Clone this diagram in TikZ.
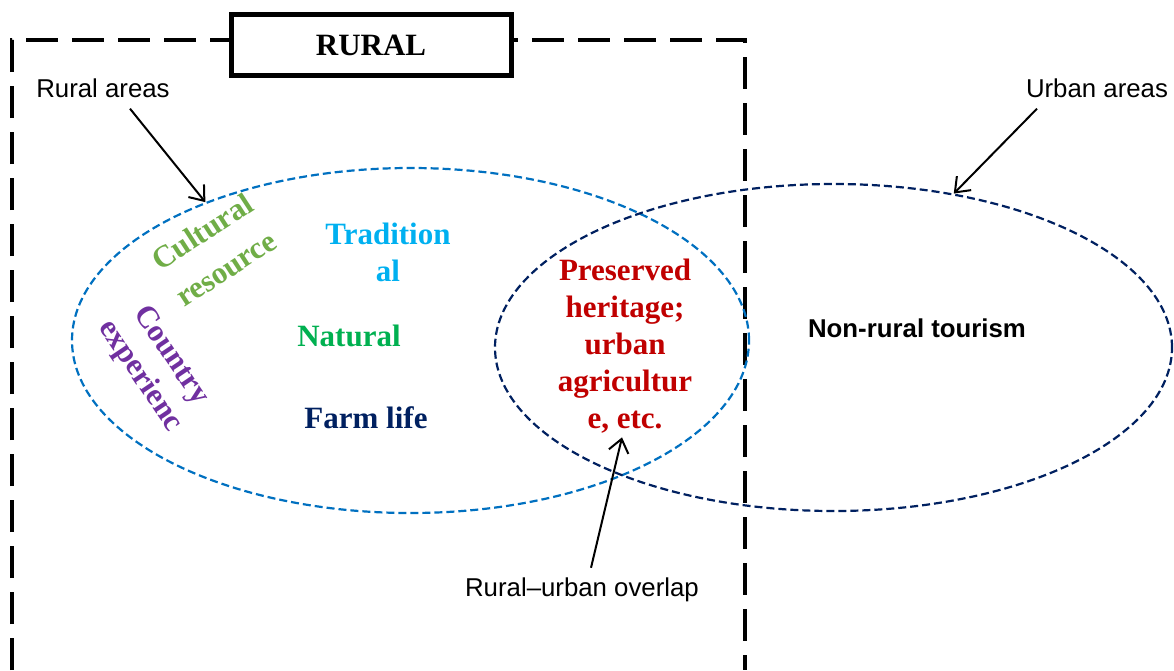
\documentclass[tikz,border=0pt]{standalone}
\usepackage{fontspec}
\setmainfont{Liberation Serif}
\setsansfont{Liberation Sans}
\usetikzlibrary{shapes.geometric,arrows.meta}

\definecolor{ruralblue}{HTML}{0070C0}
\definecolor{urbannavy}{HTML}{002060}
\definecolor{culturegreen}{HTML}{70AD47}
\definecolor{tradblue}{HTML}{00B0F0}
\definecolor{naturegreen}{HTML}{00B050}
\definecolor{countrypurple}{HTML}{7030A0}
\definecolor{heritagered}{HTML}{C00000}

\begin{document}
\begin{tikzpicture}[x=1pt, y=-1pt,
    areatext/.style={font=\sffamily\fontsize{25.8}{30}\selectfont, inner sep=0pt},
    keyword/.style={font=\bfseries\fontsize{31}{37}\selectfont, align=center, inner sep=0pt},
    zone/.style={draw, ellipse, line width=2.2pt, dash pattern=on 8pt off 4pt, inner sep=0pt},
    pointer/.style={line width=2pt, -{Straight Barb[length=13pt,width=20pt,line width=2pt]}}]
    \useasboundingbox (0,0) rectangle (1174,670);

    % rural frame and its title
    \draw[line width=4pt, dash pattern=on 32pt off 14pt] (12,670) -- (12,40) -- (745,40) -- (745,670);
    \node[draw, fill=white, line width=5pt, minimum width=280pt, minimum height=61pt, inner sep=0pt,
        font=\bfseries\fontsize{31}{37}\selectfont] (ruralbox) at (371,45) {RURAL};

    % the two areas
    \node[zone, draw=ruralblue, minimum width=677pt, minimum height=345pt] (ruralzone) at (410.5,340.5) {};
    \node[zone, draw=urbannavy, minimum width=677pt, minimum height=327pt] (urbanzone) at (833.5,347.5) {};

    % what lies in them
    \node[keyword, text=culturegreen, rotate=33, font=\bfseries\fontsize{31}{44}\selectfont] (cultural) at (214,250) {Cultural\\resource};
    \node[keyword, text=tradblue] (traditional) at (388,252) {Tradition\\al};
    \node[keyword, text=naturegreen] (natural) at (349,336) {Natural};
    \node[keyword, text=countrypurple, rotate=-56] (country) at (155,366) {Country\\experienc};
    \node[keyword, text=urbannavy] (farmlife) at (366,418) {Farm life};
    \node[keyword, text=heritagered] (heritage) at (625,346) {Preserved\\heritage;\\urban\\agricultur\\e, etc.};
    \node[font=\sffamily\bfseries\fontsize{25.8}{30}\selectfont, inner sep=0pt] (nonrural) at (917,328) {Non-rural tourism};

    % labels
    \node[areatext] (ruralareas) at (103,88) {Rural areas};
    \node[areatext] (urbanareas) at (1097,88) {Urban areas};
    \node[areatext] (overlap) at (582,590) {Rural--urban overlap};

    \draw[pointer] ([xshift=27pt,yshift=-11pt]ruralareas.south) -- (ruralzone.146);
    \draw[pointer] ([xshift=-60pt,yshift=-11pt]urbanareas.south) -- (urbanzone.52);
    \draw[pointer] ([xshift=9pt,yshift=10pt]overlap.north) -- ([xshift=-3pt,yshift=-4pt]heritage.south);
\end{tikzpicture}
\end{document}
